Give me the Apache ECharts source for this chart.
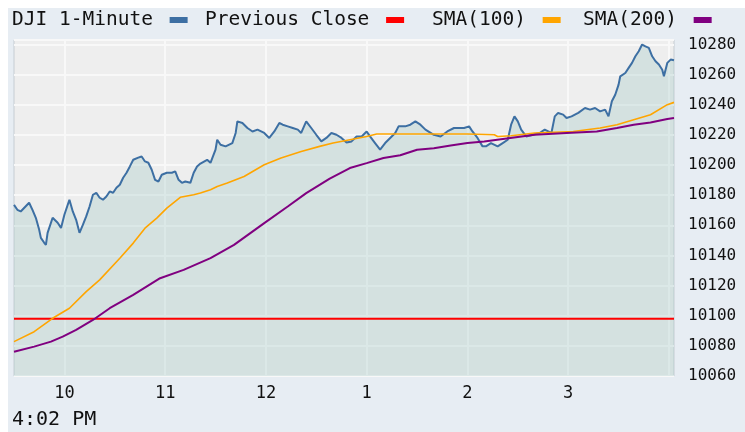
<!DOCTYPE html>
<html lang="en">

<head>
  <meta charset="UTF-8">
  <title>DJI 1-Minute</title>
  <script src="https://cdn.jsdelivr.net/npm/echarts@6/dist/echarts.min.js"></script>
  <style>
    body { margin: 0; background: #fff; }
  </style>
</head>

<body>

  <div id="panel" style="position:absolute;left:8px;top:8px;width:737px;height:424px;background:#e7edf3"></div>
  <div id="main" style="position:absolute;left:0;top:0;width:745px;height:432px;"></div>

  <script>
    // minutes after the 9:30 open
    var djiMin = [0, 2, 4, 5, 9, 11, 13, 15, 16, 18, 19, 20, 23, 24, 26, 28, 30, 33, 35, 37, 39, 41, 43, 45, 47, 49,
      51, 53, 55, 57, 59, 61, 63, 65, 67, 69, 71, 74, 76, 78, 80, 82, 84, 86, 88, 91, 94, 96, 98, 100, 102, 105, 107,
      109, 111, 115, 117, 120, 121, 123, 126, 130, 132, 133, 136, 139, 142, 145, 149, 152, 155, 158, 160, 163, 166,
      169, 171, 174, 177, 180, 183, 186, 189, 192, 195, 198, 201, 204, 207, 210, 212, 215, 218, 221, 224, 227, 229,
      233, 236, 239, 242, 245, 250, 254, 258, 262, 268, 271, 273, 276, 279, 281, 284, 288, 291, 294, 296, 298, 300,
      302, 305, 309, 313, 316, 320, 322, 324, 327, 329, 332, 336, 340, 343, 346, 349, 352, 354, 356, 358, 360, 361,
      364, 366, 368, 370, 372, 374, 376, 378, 380, 382, 384, 386, 387, 389, 391, 393]
    var djiVal = [10173.6, 10170.3, 10169.2, 10170.3, 10175.0, 10170.3, 10165.0, 10157.0, 10151.7, 10148.4, 10147.0,
      10155.0, 10165.0, 10163.7, 10161.7, 10158.3, 10167.0, 10177.0, 10169.2, 10163.7, 10155.0, 10160.3, 10165.9,
      10172.5, 10180.3, 10181.6, 10178.3, 10177.0, 10179.1, 10182.5, 10181.6, 10184.9, 10186.9, 10191.6, 10194.9,
      10199.1, 10203.5, 10204.9, 10205.7, 10202.4, 10201.5, 10196.9, 10190.2, 10189.1, 10193.6, 10194.9, 10194.9,
      10195.8, 10190.2, 10188.2, 10189.1, 10188.2, 10194.9, 10199.1, 10201.0, 10203.5, 10201.5, 10210.2, 10216.8,
      10213.5, 10212.4, 10214.6, 10221.3, 10229.0, 10227.9, 10224.6, 10222.3, 10223.5, 10221.3, 10218.0, 10222.3,
      10227.9, 10226.8, 10225.7, 10224.6, 10223.5, 10221.3, 10229.0, 10224.6, 10220.1, 10215.7, 10218.0, 10221.3,
      10220.1, 10218.0, 10215.0, 10215.7, 10219.0, 10219.0, 10222.3, 10219.0, 10214.6, 10210.2, 10214.6, 10218.0,
      10221.3, 10225.7, 10225.7, 10226.8, 10229.0, 10226.8, 10223.5, 10220.1, 10219.0, 10222.3, 10224.6, 10224.6,
      10225.7, 10222.3, 10218.0, 10212.4, 10212.4, 10214.6, 10212.4, 10214.6, 10216.8, 10226.8, 10232.3, 10229.0,
      10223.5, 10219.0, 10220.1, 10221.3, 10223.5, 10221.3, 10232.3, 10234.6, 10233.5, 10231.2, 10232.3, 10234.6,
      10237.9, 10236.8, 10237.9, 10235.6, 10236.8, 10232.3, 10242.3, 10246.7, 10253.4, 10258.9, 10261.1, 10264.5,
      10267.8, 10272.2, 10275.5, 10280.0, 10278.8, 10277.8, 10272.2, 10268.9, 10266.7, 10263.3, 10258.9, 10267.8,
      10270.0, 10269.5]

    var sma100Min = [0, 12, 23, 33, 43, 51, 63, 71, 78, 85, 91, 99, 107, 111, 117, 121, 127, 137, 149, 159, 171, 182,
      190, 200, 210, 216, 230, 250, 270, 286, 288, 296, 310, 333, 349, 359, 369, 379, 389, 393]
    var sma100Val = [10082.8, 10089.4, 10098.3, 10105.0, 10116.0, 10123.8, 10138.2, 10148.2, 10158.1, 10164.8,
      10171.4, 10178.6, 10180.3, 10181.4, 10183.6, 10185.8, 10188.1, 10192.4, 10200.2, 10204.7, 10209.0, 10212.4,
      10214.6, 10216.8, 10219.0, 10220.6, 10220.6, 10220.6, 10220.6, 10220.1, 10219.0, 10219.5, 10221.3, 10222.3,
      10224.6, 10226.8, 10230.1, 10233.4, 10240.1, 10241.6]

    var sma200Min = [0, 12, 22, 29, 37, 47, 57, 71, 87, 101, 117, 131, 149, 163, 174, 188, 200, 210, 220, 230, 240,
      250, 260, 270, 280, 290, 310, 329, 347, 359, 369, 379, 389, 393]
    var sma200Val = [10076.1, 10079.5, 10082.8, 10086.1, 10090.6, 10097.2, 10105.0, 10113.8, 10124.9, 10130.4,
      10138.2, 10147.0, 10161.5, 10172.5, 10181.4, 10191.0, 10198.0, 10201.3, 10204.7, 10206.5, 10210.2, 10211.2,
      10213.0, 10214.6, 10215.7, 10217.2, 10220.1, 10221.3, 10222.3, 10224.6, 10226.8, 10228.3, 10230.6, 10231.2]

    var prevClose = 10098
    var sessionEnd = 393

    var hourTicks = [30, 90, 150, 210, 270, 330]
    var hourLabels = ['10', '11', '12', '1', '2', '3']

    function pairs(xs, ys) {
      return xs.map(function (x, i) { return [x, ys[i]] })
    }

    var font = '"DejaVu Sans Mono", monospace'
    var legendBase = {
      align: 'right',
      icon: 'rect',
      itemWidth: 18,
      itemHeight: 6,
      top: 10,
      padding: 0,
      selectedMode: false,
      formatter: '{name} ',
      textStyle: { fontFamily: font, fontSize: 19.5, color: '#111' }
    }

    var myChart = echarts.init(document.getElementById('main'))
    myChart.setOption({
      animation: false,
      color: ['#3d6fa3', '#ff0000', '#ffa500', '#800080'],
      legend: [
        Object.assign({ data: ['DJI 1-Minute'], left: 12 }, legendBase),
        Object.assign({ data: ['Previous Close'], left: 205 }, legendBase),
        Object.assign({ data: ['SMA(100)'], left: 432 }, legendBase),
        Object.assign({ data: ['SMA(200)'], left: 583 }, legendBase)
      ],
      grid: {
        left: 14, right: 71, top: 40, bottom: 56,
        show: true,
        backgroundColor: '#eeeeee',
        borderColor: '#c5ccd2',
        borderWidth: 1
      },
      xAxis: {
        type: 'value',
        min: 0,
        max: sessionEnd,
        interval: 30,
        axisLine: { show: false },
        axisTick: { show: false },
        axisLabel: {
          fontFamily: font, fontSize: 17, color: '#111', margin: 9,
          formatter: function (v) {
            var i = hourTicks.indexOf(v)
            return i < 0 ? '' : hourLabels[i]
          }
        },
        splitLine: { show: true, lineStyle: { color: ['rgba(0,0,0,0)', '#f8f8f8'], width: 2 } }
      },
      yAxis: {
        type: 'value',
        position: 'right',
        min: 10060,
        max: 10283,
        interval: 20,
        axisLine: { show: false },
        axisTick: { show: false },
        axisLabel: {
          fontFamily: font, fontSize: 16, color: '#111', margin: 14,
          formatter: function (v) { return v % 20 === 0 ? v : '' }
        },
        splitLine: { lineStyle: { color: '#f8f8f8', width: 2 } }
      },
      graphic: [{
        type: 'text', left: 12, top: 410,
        style: { text: '4:02 PM', font: '20px ' + font, fill: '#111' }
      }],
      series: [
        {
          name: 'DJI 1-Minute', type: 'line', showSymbol: false,
          data: pairs(djiMin, djiVal),
          lineStyle: { width: 2, color: '#3d6fa3' },
          areaStyle: { origin: 'start', opacity: 1, color: 'rgba(160,200,196,0.33)' }
        },
        {
          name: 'Previous Close', type: 'line', showSymbol: false,
          data: [[0, prevClose], [sessionEnd, prevClose]],
          lineStyle: { width: 2, color: '#ff0000' }
        },
        {
          name: 'SMA(100)', type: 'line', showSymbol: false,
          data: pairs(sma100Min, sma100Val),
          lineStyle: { width: 1.6, color: '#ffa500' }
        },
        {
          name: 'SMA(200)', type: 'line', showSymbol: false,
          data: pairs(sma200Min, sma200Val),
          lineStyle: { width: 2, color: '#800080' }
        }
      ]
    })
  </script>

</body>

</html>
